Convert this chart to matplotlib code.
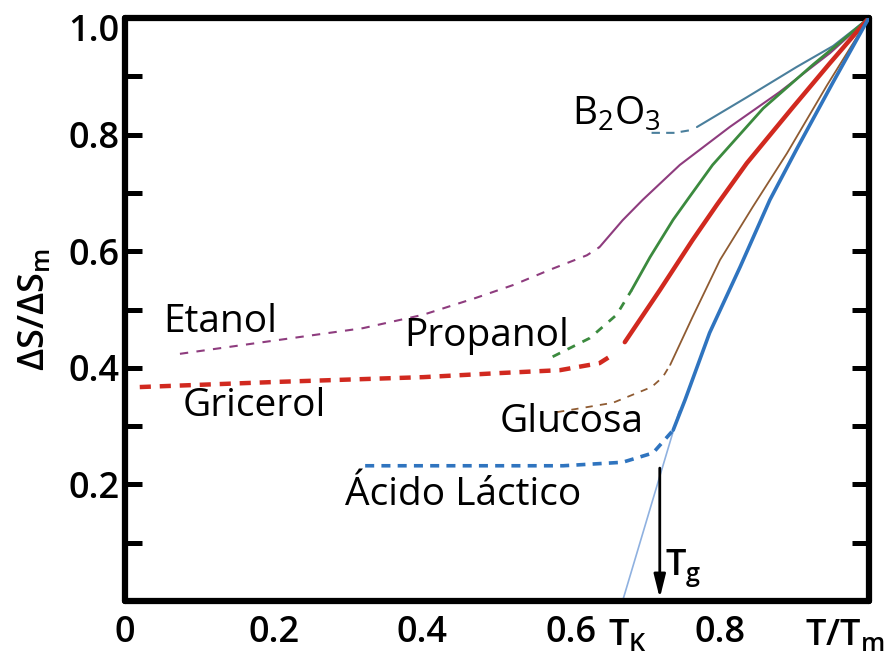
"""Entropy excess vs reduced temperature (Kauzmann plot) for several glass formers."""

import matplotlib
matplotlib.use("Agg")
from matplotlib import pyplot as plt
import matplotlib.transforms as mtransforms

plt.rcParams["font.family"] = ["Open Sans", "DejaVu Sans"]
plt.rcParams["mathtext.default"] = "regular"

# --- data (T/Tm, dS/dSm) ---
# dashed = supercooled / glass branch, solid = liquid branch
b2o3_glass_x = [0.708, 0.739, 0.762]
b2o3_glass_y = [0.803, 0.803, 0.808]
b2o3_liq_x = [0.769, 0.836, 0.903, 0.952, 1.0]
b2o3_liq_y = [0.813, 0.864, 0.916, 0.952, 1.0]

etanol_glass_x = [0.074, 0.208, 0.320, 0.401, 0.472, 0.522, 0.571, 0.621, 0.638]
etanol_glass_y = [0.424, 0.448, 0.468, 0.491, 0.520, 0.542, 0.568, 0.593, 0.607]
etanol_liq_x = [0.638, 0.669, 0.696, 0.746, 0.813, 0.880, 0.948, 1.0]
etanol_liq_y = [0.607, 0.653, 0.688, 0.748, 0.813, 0.873, 0.940, 1.0]

propanol_glass_x = [0.575, 0.625, 0.661, 0.681]
propanol_glass_y = [0.419, 0.451, 0.491, 0.533]
propanol_liq_x = [0.681, 0.706, 0.737, 0.760, 0.790, 0.858, 0.925, 0.961, 1.0]
propanol_liq_y = [0.533, 0.590, 0.654, 0.695, 0.748, 0.845, 0.920, 0.958, 1.0]

glicerol_glass_x = [0.020, 0.208, 0.401, 0.504, 0.585, 0.638, 0.659]
glicerol_glass_y = [0.367, 0.376, 0.384, 0.391, 0.396, 0.408, 0.425]
glicerol_liq_x = [0.672, 0.719, 0.763, 0.796, 0.836, 0.898, 0.948, 1.0]
glicerol_liq_y = [0.444, 0.533, 0.619, 0.680, 0.751, 0.847, 0.923, 1.0]

glucosa_glass_x = [0.581, 0.656, 0.708, 0.723, 0.733]
glucosa_glass_y = [0.324, 0.340, 0.367, 0.384, 0.405]
glucosa_liq_x = [0.733, 0.763, 0.800, 0.844, 0.890, 0.944, 1.0]
glucosa_liq_y = [0.405, 0.487, 0.585, 0.676, 0.768, 0.885, 1.0]

lactico_glass_x = [0.323, 0.589, 0.669, 0.710, 0.737]
lactico_glass_y = [0.232, 0.232, 0.238, 0.254, 0.293]
lactico_liq_x = [0.737, 0.753, 0.786, 0.827, 0.867, 0.903, 0.952, 1.0]
lactico_liq_y = [0.293, 0.345, 0.460, 0.573, 0.688, 0.775, 0.890, 1.0]

# extrapolation of the liquid branch down to T_K
kauzmann_x = [0.745, 0.669]
kauzmann_y = [0.325, 0.0]

tg_x = 0.719
tg_y_top = 0.228

x_ticks = [0, 0.2, 0.4, 0.6, 0.8]
x_tick_labels = ["0", "0.2", "0.4", "0.6", "0.8"]
y_ticks = [0.2, 0.4, 0.6, 0.8, 1.0]
y_tick_labels = ["0.2", "0.4", "0.6", "0.8", "1.0"]
y_minor = [0.1, 0.3, 0.5, 0.7, 0.9]

series = [
    # glass x, glass y, liquid x, liquid y, colour, lw, dash
    (b2o3_glass_x, b2o3_glass_y, b2o3_liq_x, b2o3_liq_y, "#4a7f9c", 1.5, (4, 3)),
    (etanol_glass_x, etanol_glass_y, etanol_liq_x, etanol_liq_y, "#8e3c7e", 1.5, (4, 4)),
    (propanol_glass_x, propanol_glass_y, propanol_liq_x, propanol_liq_y, "#3b8a3e", 2.0, (3, 3)),
    (glicerol_glass_x, glicerol_glass_y, glicerol_liq_x, glicerol_liq_y, "#d1291f", 3.2, (2.5, 2)),
    (glucosa_glass_x, glucosa_glass_y, glucosa_liq_x, glucosa_liq_y, "#8f5b32", 1.3, (4, 4)),
    (lactico_glass_x, lactico_glass_y, lactico_liq_x, lactico_liq_y, "#2f74bf", 2.6, (2.5, 2)),
]

fig = plt.figure(figsize=(8.92, 6.69), dpi=100)
ax = fig.add_axes([0.140, 0.1016, 0.834, 0.8715])

ax.plot(kauzmann_x, kauzmann_y, color="#8fb1e0", lw=1.2, zorder=2)

for gx, gy, lx, ly, color, lw, dash in series:
    ax.plot(gx, gy, color=color, lw=lw, linestyle=(0, dash), zorder=3)
    ax.plot(lx, ly, color=color, lw=lw, solid_capstyle="round",
            solid_joinstyle="round", zorder=3)

ax.annotate("", xy=(tg_x, 0.005), xytext=(tg_x, tg_y_top),
            arrowprops=dict(arrowstyle="-|>,head_length=1.4,head_width=0.35",
                            color="black", lw=2.0, shrinkA=0, shrinkB=0))

# --- labels on the curves ---
lab = dict(fontsize=28, color="black", va="center", ha="left")
ax.text(0.601, 0.835, "B$_2$O$_3$", **lab)
ax.text(0.051, 0.478, "Etanol", **lab)
ax.text(0.376, 0.454, "Propanol", **lab)
ax.text(0.077, 0.335, "Gricerol", **lab)
ax.text(0.504, 0.307, "Glucosa", **lab)
ax.text(0.296, 0.182, "Ácido Láctico", **lab)

bold = dict(fontsize=26, fontweight="semibold", color="black")
ax.text(0.726, 0.044, "T$_g$", ha="left", va="baseline", **bold)
ax.text(0.676, -0.075, "T$_K$", ha="center", va="baseline", clip_on=False, **bold)
ax.text(0.968, -0.075, "T/T$_m$", ha="center", va="baseline", clip_on=False, **bold)

ax.set_xlim(0, 1)
ax.set_ylim(0, 1)
ax.set_xticks(x_ticks)
ax.set_xticklabels(x_tick_labels)
ax.set_yticks(y_ticks)
ax.set_yticklabels(y_tick_labels)
ax.set_yticks(y_minor, minor=True)

ax.tick_params(axis="x", length=0, pad=10, labelsize=26)
ax.tick_params(axis="y", which="both", direction="in", left=True, right=True,
               length=12, width=3.6, pad=4, labelsize=26)
for lbl in ax.get_xticklabels() + ax.get_yticklabels():
    lbl.set_fontweight("semibold")

# the "1.0" label sits a little below the corner in the reference
top_lbl = ax.get_yticklabels()[-1]
top_lbl.set_transform(top_lbl.get_transform()
                      + mtransforms.ScaledTranslation(0, -7 / 72, fig.dpi_scale_trans))

for sp in ax.spines.values():
    sp.set_linewidth(4.5)
    sp.set_capstyle("round")

ax.set_ylabel("ΔS/ΔS$_m$", fontsize=26, fontweight="semibold", labelpad=11)

fig.savefig("out.png", dpi=100)
